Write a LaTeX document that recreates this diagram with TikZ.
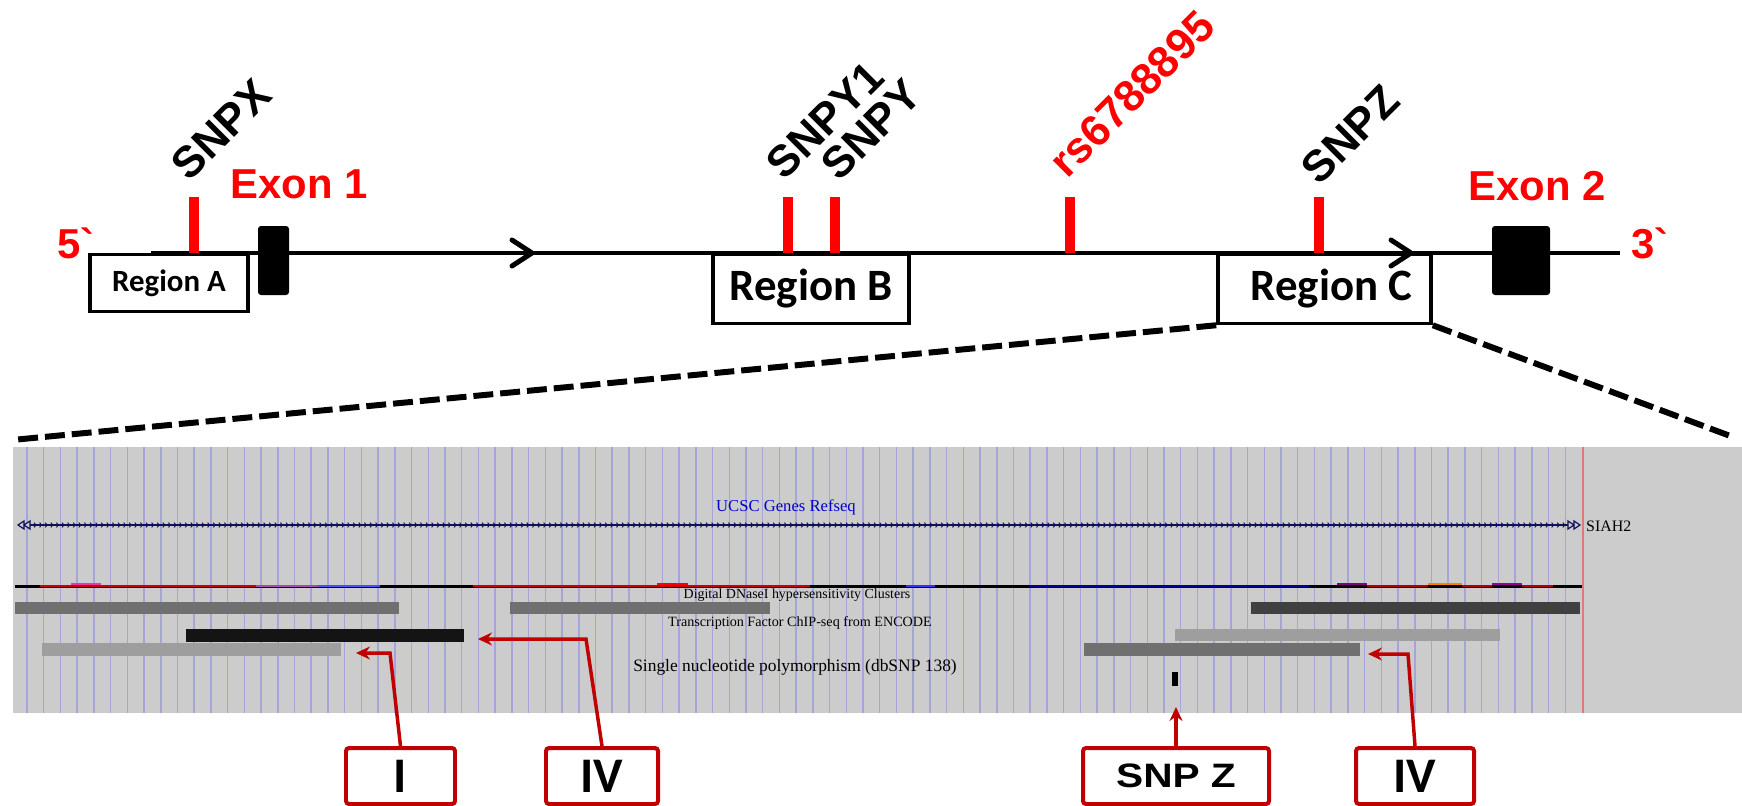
\documentclass[tikz,border=0pt]{standalone}
\usepackage{fontspec}
\setmainfont{Liberation Sans}
\newfontfamily\calfont{Carlito}
\newfontfamily\ucscfont{Liberation Serif}
\usetikzlibrary{arrows.meta}
\definecolor{snpred}{RGB}{255,0,0}
\definecolor{callred}{RGB}{192,0,0}
\definecolor{shotgray}{RGB}{204,204,204}
\definecolor{gridblue}{RGB}{165,165,215}
\definecolor{genenavy}{RGB}{15,15,90}
\definecolor{ucscblue}{RGB}{0,0,210}
\definecolor{edgered}{RGB}{228,120,120}
\definecolor{barmid}{RGB}{112,112,112}
\definecolor{bardark}{RGB}{64,64,64}
\definecolor{barlight}{RGB}{158,158,158}
\definecolor{barblack}{RGB}{20,20,20}
\tikzset{
  region/.style={draw=black, line width=3.5pt, fill=white, inner sep=0pt, font=\calfont\bfseries\fontsize{#1}{#1}\selectfont},
  region/.default={45},
  exon/.style={fill=black, rounded corners=3pt, inner sep=0pt},
  snptick/.style={draw=snpred, line width=10pt},
  snplbl/.style={rotate=45, anchor=south west, inner sep=0pt, font=\bfseries\fontsize{44}{44}\selectfont},
  redlbl/.style={text=snpred, inner sep=0pt, font=\bfseries\fontsize{42}{42}\selectfont},
  chev/.style={line width=5pt, line join=round, line cap=round},
  zoomline/.style={line width=6pt, dash pattern=on 20pt off 7pt},
  track/.style={inner sep=0pt, font=\ucscfont\fontsize{#1}{#1}\selectfont},
  track/.default={14},
  callbox/.style={draw=callred, line width=4pt, rounded corners=3pt, fill=white, minimum height=56bp, inner sep=0pt},
  callout/.style={draw=callred, line width=3.5pt, -{Stealth[length=14pt, width=13pt]}}
}

\begin{document}
\begin{tikzpicture}[x=1bp, y=-1bp]
  \useasboundingbox (0,0) rectangle (1742,806);
  \fill[white] (0,0) rectangle (1742,806);
  % gene overview
  \draw[line width=5pt] (151,253) -- (1620,253);
  \foreach \tx in {194,788,835,1070,1319} \draw[snptick] (\tx,197) -- (\tx,253);
  \node[region=31, minimum width=158bp, minimum height=57bp] (regA) at (169,283) {Region A};
  \node[region, minimum width=196bp, minimum height=69bp] (regB) at (811,289) {Region B};
  \node[region, minimum width=213bp, minimum height=69bp] (regC) at (1324.5,289) {\hspace*{14bp}Region C};
  \draw[chev] (512,240) -- (532,253) -- (512,266);
  \draw[chev] (1391,240) -- (1411,253) -- (1391,266);
  \node[exon, minimum width=31bp, minimum height=69bp] (exbox1) at (273.5,260.5) {};
  \node[exon, minimum width=58bp, minimum height=69bp] (exbox2) at (1521,260.5) {};
  \node[redlbl] (exlbl1) at (299,184) {Exon 1};
  \node[redlbl] (exlbl2) at (1537,186) {Exon 2};
  \node[redlbl] (end5) at (76,243) {5\textasciigrave};
  \node[redlbl] (end3) at (1650,243) {3\textasciigrave};
  \node[snplbl] (lblX) at (190,183) {SNPX};
  \node[snplbl] (lblYa) at (785,182) {SNPY1};
  \node[snplbl] (lblY) at (840,183) {SNPY};
  \node[snplbl, text=snpred] (lblrs) at (1068,180) {rs6788895};
  \node[snplbl] (lblZ) at (1320,187) {SNPZ};
  % zoom into region C
  \coordinate (zoomL) at (12,440);
  \coordinate (zoomR) at (1733,437);
  \draw[zoomline] (regC.south west) -- (zoomL);
  \draw[zoomline] (regC.south east) -- (zoomR);
  % browser screenshot
  \fill[shotgray] (13,447) rectangle (1742,713);
  \foreach \i in {0,...,92} \draw[gridblue, line width=1.5pt] ({27+\i*16.72},447) -- ++(0,266);
  \draw[edgered, line width=1.5pt] (1583,447) -- (1583,713);
  \draw[genenavy, line width=1.6pt] (24,525) -- (1574,525);
  \foreach \gx in {36,41.6,...,1566} \draw[genenavy, line width=0.9pt] (\gx-2,522.6) -- (\gx,525) -- (\gx-2,527.4);
  \draw[genenavy, line width=1.2pt, fill=shotgray] (18,525) -- (24,521) -- (24,529) -- cycle (24,525) -- (30,521) -- (30,529) -- cycle;
  \draw[genenavy, line width=1.2pt, fill=shotgray] (1580,525) -- (1574,521) -- (1574,529) -- cycle (1574,525) -- (1568,521) -- (1568,529) -- cycle;
  \node[track=16.7, text=ucscblue] (trkgene) at (786,507) {UCSC Genes Refseq};
  \node[track=16, anchor=west] (trksiah) at (1586,526) {SIAH2};
  \draw[black, line width=3pt] (15,586) -- (1582,586);
  \foreach \xa/\xb/\c in {40/256/red!80!black, 473/810/red!80!black, 256/318/violet!70, 318/380/blue!70, 906/935/blue!80, 1029/1309/blue!60!black, 1367/1428/red!70!black, 1462/1492/red!70!black, 1522/1553/red!70!black}
    \draw[\c, line width=2pt] (\xa,585.5) -- (\xb,585.5);
  \foreach \xa/\xb/\c in {71/101/magenta!80, 657/688/red, 1337/1367/violet, 1428/1462/orange, 1492/1522/violet!80!magenta}
    \draw[\c, line width=2.5pt] (\xa,584) -- (\xb,584);
  \node[track=14] (trkdnase) at (797,595) {Digital DNaseI hypersensitivity Clusters};
  \node[track=14.2] (trktf) at (800,623) {Transcription Factor ChIP-seq from ENCODE};
  \node[track=17.5] (trksnp) at (795,667) {Single nucleotide polymorphism (dbSNP 138)};
  \foreach \xa/\xb/\ya/\yb/\c in {15/399/602/614/barmid, 510/770/602/614/barmid, 1251/1580/602/614/bardark,
      186/464/629/642/barblack, 1175/1500/629/641/barlight, 42/341/643/656/barlight, 1084/1360/643/656/barmid}
    \fill[\c] (\xa,\ya) rectangle (\xb,\yb);
  \fill[black] (1172,672) rectangle (1178,686);
  % callouts
  \node[callbox, minimum width=109bp, font=\calfont\bfseries\fontsize{50}{50}\selectfont] (boxI) at (400.5,776) {I};
  \node[callbox, minimum width=112bp, font=\calfont\bfseries\fontsize{50}{50}\selectfont] (boxIVa) at (602,776) {IV};
  \node[callbox, minimum width=186bp, font=\bfseries\fontsize{34}{34}\selectfont] (boxZ) at (1176,776) {\scalebox{1.2}[1]{SNP Z}};
  \node[callbox, minimum width=118bp, font=\calfont\bfseries\fontsize{50}{50}\selectfont] (boxIVb) at (1415,776) {IV};
  \coordinate (bendI) at (390,653);
  \coordinate (tipI) at (356,653);
  \coordinate (bendIVa) at (586,639);
  \coordinate (tipIVa) at (478,639);
  \coordinate (tipZ) at (1176,707);
  \coordinate (bendIVb) at (1408,654);
  \coordinate (tipIVb) at (1368,654);
  \draw[callout] (boxI.north) -- (bendI) -- (tipI);
  \draw[callout] (boxIVa.north) -- (bendIVa) -- (tipIVa);
  \draw[callout] (boxZ.north) -- (tipZ);
  \draw[callout] (boxIVb.north) -- (bendIVb) -- (tipIVb);
\end{tikzpicture}
\end{document}
